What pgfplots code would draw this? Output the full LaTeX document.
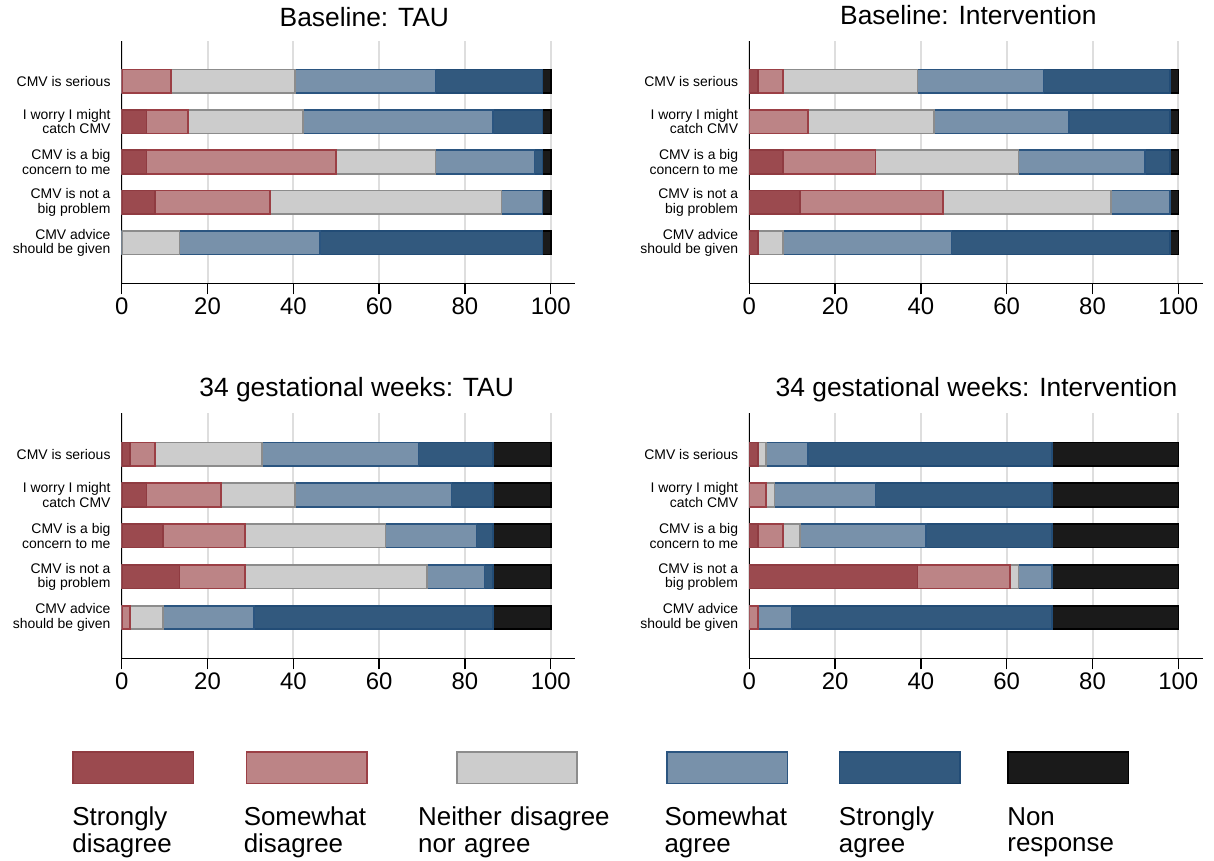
\documentclass[border=0pt]{standalone}
\usepackage{fontspec}
\setmainfont{Liberation Sans}
\usepackage{pgfplots}
\pgfplotsset{compat=1.18}
\usepackage{pgfplotstable}

\definecolor{sdF}{HTML}{9B4A4F}
\definecolor{sdD}{HTML}{8F3B41}
\definecolor{swdF}{HTML}{BC8486}
\definecolor{swdD}{HTML}{9B3F45}
\definecolor{nF}{HTML}{CCCCCC}
\definecolor{nD}{HTML}{8C8C8C}
\definecolor{swaF}{HTML}{7891AA}
\definecolor{swaD}{HTML}{2B5580}
\definecolor{saF}{HTML}{32597E}
\definecolor{saD}{HTML}{224C76}
\definecolor{nrF}{HTML}{1A1A1A}
\definecolor{nrD}{HTML}{000000}

\tikzset{
 sdsty/.style={fill=sdF, draw=sdD, line width=1.6bp},
 swdsty/.style={fill=swdF, draw=swdD, line width=1.6bp},
 nsty/.style={fill=nF, draw=nD, line width=1.6bp},
 swasty/.style={fill=swaF, draw=swaD, line width=1.6bp},
 sasty/.style={fill=saF, draw=saD, line width=1.6bp},
 nrsty/.style={fill=nrF, draw=nrD, line width=1.6bp},
}

% cumulative right ends of each segment (percent)
\pgfplotstableread{
y sd swd nn swa sa nr
5 0 11.5 40.4 73.1 98.1 100
4 5.8 15.4 42.3 86.5 98.1 100
3 5.8 50.0 73.1 96.2 98.1 100
2 7.7 34.6 88.5 98.1 98.1 100
1 0 0 13.5 46.2 98.1 100
}\tabA
\pgfplotstableread{
y sd swd nn swa sa nr
5 2.0 7.8 39.2 68.6 98.0 100
4 0 13.7 43.1 74.5 98.0 100
3 7.8 29.4 62.7 92.2 98.0 100
2 11.8 45.1 84.3 98.0 98.0 100
1 2.0 2.0 7.8 47.1 98.0 100
}\tabB
\pgfplotstableread{
y sd swd nn swa sa nr
5 1.9 7.7 32.7 69.2 86.5 100
4 5.8 23.1 40.4 76.9 86.5 100
3 9.6 28.8 61.5 82.7 86.5 100
2 13.5 28.8 71.2 84.6 86.5 100
1 0 1.9 9.6 30.8 86.5 100
}\tabC
\pgfplotstableread{
y sd swd nn swa sa nr
5 2.0 2.0 3.9 13.7 70.6 100
4 0 3.9 5.9 29.4 70.6 100
3 2.0 7.8 11.8 41.2 70.6 100
2 39.2 60.8 62.7 70.6 70.6 100
1 0 2.0 2.0 9.8 70.6 100
}\tabD

\pgfplotsset{
 panel/.style={
  scale only axis, width=453.5bp, xmin=0, xmax=105.7, ymin=0, ymax=6,
  anchor=south west,
  axis x line*=bottom, axis y line*=left,
  axis line style={line width=1.4bp, black},
  xtick={0,20,40,60,80,100}, xtick pos=bottom, xtick align=outside,
  major tick length=11bp,
  tick style={line width=1.4bp, black},
  ytick={1,2,3,4,5}, ytick style={draw=none},
  yticklabels={{CMV advice\\should be given},{CMV is not a\\big problem},{CMV is a big\\concern to me},{I worry I might\\catch CMV},{CMV is serious}},
  yticklabel style={align=right, font=\fontsize{14}{14.5}\selectfont, inner sep=0pt},
  xticklabel style={font=\fontsize{24}{24}\selectfont},
  /pgf/number format/assume math mode=true,
  xmajorgrids, major grid style={line width=2bp, color=black!13},
  xbar, bar width=23.5bp,
  every axis plot post/.append style={/pgf/bar shift=0pt},
  restrict x to domain=0.05:200,
  title style={font=\fontsize{26.5}{28}\selectfont, anchor=base},
 }
}

\newcommand\bars[1]{%
  \addplot[nrsty, forget plot] table[x=nr, y=y] {#1};
  \addplot[sasty, forget plot] table[x=sa, y=y] {#1};
  \addplot[swasty, forget plot] table[x=swa, y=y] {#1};
  \addplot[nsty, forget plot] table[x=nn, y=y] {#1};
  \addplot[swdsty, forget plot] table[x=swd, y=y] {#1};
  \addplot[sdsty, forget plot] table[x=sd, y=y] {#1};
}

\begin{document}
\begin{tikzpicture}
\useasboundingbox (0,0) rectangle (1214bp,861bp);

\begin{axis}[panel, height=242.6bp, at={(121.7bp,577.7bp)},
  title={Baseline: TAU}, title style={at={(0.535,1)}, yshift=8.4bp}]
\bars{\tabA}
\end{axis}

\begin{axis}[panel, height=242.6bp, at={(749.3bp,577.7bp)},
  title={Baseline: Intervention}, title style={at={(0.483,1)}, yshift=10.5bp}]
\bars{\tabB}
\end{axis}

\begin{axis}[panel, height=245bp, at={(121.7bp,202.7bp)},
  title={34 gestational weeks: TAU}, title style={at={(0.518,1)}, yshift=11bp},
  legend columns=6,
  legend style={at={(-0.1096,-0.607)}, anchor=north west, draw=none, fill=none,
    inner sep=0pt, outer sep=0pt, column sep=0pt, row sep=0pt,
    font=\fontsize{26}{27}\selectfont, nodes={inner sep=0pt, outer sep=0pt}}]
\bars{\tabC}
\addlegendimage{legend image code/.code={\path (0pt,0pt); \draw[sdsty,overlay] (0.8bp,23.8bp) rectangle (121.2bp,55.2bp);}}
\addlegendentry[anchor=north west, text width=171bp, align=left]{Strongly\\disagree}
\addlegendimage{legend image code/.code={\path (0pt,0pt); \draw[swdsty,overlay] (2.8bp,23.8bp) rectangle (123.2bp,55.2bp);}}
\addlegendentry[anchor=north west, text width=174bp, align=left]{Somewhat\\disagree}
\addlegendimage{legend image code/.code={\path (0pt,0pt); \draw[nsty,overlay] (38.8bp,23.8bp) rectangle (159.2bp,55.2bp);}}
\addlegendentry[anchor=north west, text width=246bp, align=left]{Neither disagree\\nor agree}
\addlegendimage{legend image code/.code={\path (0pt,0pt); \draw[swasty,overlay] (2.8bp,23.8bp) rectangle (123.2bp,55.2bp);}}
\addlegendentry[anchor=north west, text width=174bp, align=left]{Somewhat\\agree}
\addlegendimage{legend image code/.code={\path (0pt,0pt); \draw[sasty,overlay] (0.8bp,23.8bp) rectangle (121.2bp,55.2bp);}}
\addlegendentry[anchor=north west, text width=168bp, align=left]{Strongly\\agree}
\addlegendimage{legend image code/.code={\path (0pt,0pt); \draw[nrsty,overlay] (0.8bp,23.8bp) rectangle (121.2bp,55.2bp);}}
\addlegendentry[anchor=north west, text width=130bp, align=left]{Non\\response}
\end{axis}

\begin{axis}[panel, height=245bp, at={(749.3bp,202.7bp)},
  title={34 gestational weeks: Intervention}, title style={at={(0.501,1)}, yshift=11bp}]
\bars{\tabD}
\end{axis}
\end{tikzpicture}
\end{document}
